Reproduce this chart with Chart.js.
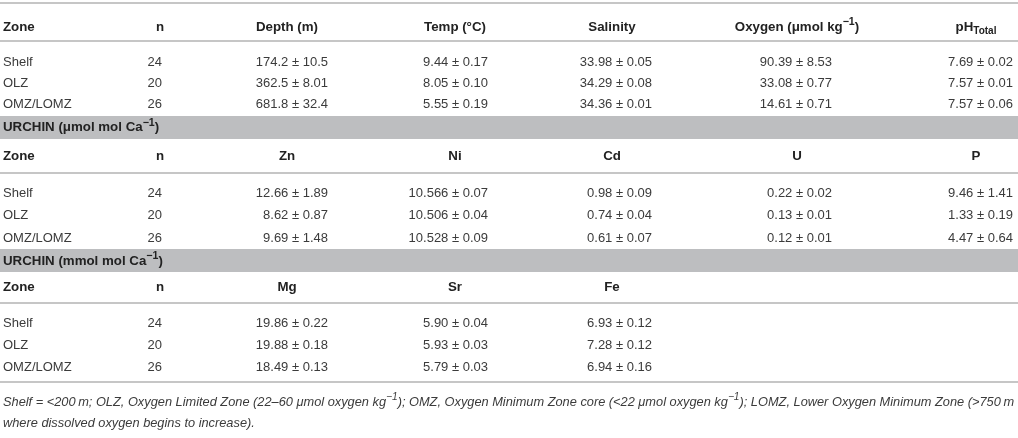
<!DOCTYPE html>
<html>
<head>
<meta charset="utf-8">
<script src="https://cdn.jsdelivr.net/npm/chart.js@4.4.1/dist/chart.umd.min.js"></script>
<style>
  html, body { margin: 0; padding: 0; background: #fff; }
  #wrap { width: 1018px; height: 438px; }
</style>
</head>
<body>
<div id="wrap"><canvas id="chart"></canvas></div>
<script>
// ---- data ----
const zones = ["Shelf", "OLZ", "OMZ/LOMZ"];
const nValues = [24, 20, 26];

const envHeaders = ["Zone", "n", "Depth (m)", "Temp (°C)", "Salinity", "Oxygen (μmol kg^{−1})", "pH_{Total}"];
const depthMean = ["174.2", "362.5", "681.8"];
const depthSd = ["10.5", "8.01", "32.4"];
const tempMean = ["9.44", "8.05", "5.55"];
const tempSd = ["0.17", "0.10", "0.19"];
const salinityMean = ["33.98", "34.29", "34.36"];
const salinitySd = ["0.05", "0.08", "0.01"];
const oxygenMean = ["90.39", "33.08", "14.61"];
const oxygenSd = ["8.53", "0.77", "0.71"];
const phMean = ["7.69", "7.57", "7.57"];
const phSd = ["0.02", "0.01", "0.06"];

const microTitle = "URCHIN (μmol mol Ca^{−1})";
const microHeaders = ["Zone", "n", "Zn", "Ni", "Cd", "U", "P"];
const znMean = ["12.66", "8.62", "9.69"];
const znSd = ["1.89", "0.87", "1.48"];
const niMean = ["10.566", "10.506", "10.528"];
const niSd = ["0.07", "0.04", "0.09"];
const cdMean = ["0.98", "0.74", "0.61"];
const cdSd = ["0.09", "0.04", "0.07"];
const uMean = ["0.22", "0.13", "0.12"];
const uSd = ["0.02", "0.01", "0.01"];
const pMean = ["9.46", "1.33", "4.47"];
const pSd = ["1.41", "0.19", "0.64"];

const milliTitle = "URCHIN (mmol mol Ca^{−1})";
const milliHeaders = ["Zone", "n", "Mg", "Sr", "Fe"];
const mgMean = ["19.86", "19.88", "18.49"];
const mgSd = ["0.22", "0.18", "0.13"];
const srMean = ["5.90", "5.93", "5.79"];
const srSd = ["0.04", "0.03", "0.03"];
const feMean = ["6.93", "7.28", "6.94"];
const feSd = ["0.12", "0.12", "0.16"];

const footnote = [
  "Shelf = <200\u2009m; OLZ, Oxygen Limited Zone (22–60 μmol oxygen kg^{−1}); OMZ, Oxygen Minimum Zone core (<22 μmol oxygen kg^{−1}); LOMZ, Lower Oxygen Minimum Zone (>750\u2009m",
  "where dissolved oxygen begins to increase)."
];

// ---- layout (table units) ----
const headerX = [3, 160, 287, 455, 612, 797, 976];   // header anchors
const cellX = [3, 162, 328, 488, 652, 832, 1013];    // value anchors (right edge)
const blocks = [
  { headerY: 27, rowY: [62, 83, 104] },
  { headerY: 156, rowY: [193, 215.5, 238] },
  { headerY: 287, rowY: [323, 345, 367] }
];
const bands = [{ top: 116, bottom: 139, textY: 127.5 }, { top: 249, bottom: 272, textY: 261 }];
const rules = [3, 41, 173, 303, 382];
const footY = [402, 423];

const FONT = '"Liberation Sans", Arial, Helvetica, sans-serif';
const TEXT = "#3b3b3b";
const BOLD = "#222";

const pm = (m, s) => m.map((v, i) => v + " ± " + s[i]);

function headerSet(labels, y) {
  return {
    data: labels.map((t, i) => ({ x: headerX[i], y: y, t: t, al: i === 0 ? "left" : "center" })),
    font: "bold 13.3px " + FONT, color: BOLD
  };
}
function colSet(texts, col, rowY, align) {
  return {
    data: texts.map((t, i) => ({ x: cellX[col], y: rowY[i], t: String(t), al: align })),
    font: "13px " + FONT, color: TEXT
  };
}

const datasets = [];
const valueBlocks = [
  [pm(depthMean, depthSd), pm(tempMean, tempSd), pm(salinityMean, salinitySd), pm(oxygenMean, oxygenSd), pm(phMean, phSd)],
  [pm(znMean, znSd), pm(niMean, niSd), pm(cdMean, cdSd), pm(uMean, uSd), pm(pMean, pSd)],
  [pm(mgMean, mgSd), pm(srMean, srSd), pm(feMean, feSd)]
];
[envHeaders, microHeaders, milliHeaders].forEach((h, b) => {
  const blk = blocks[b];
  datasets.push(headerSet(h, blk.headerY));
  datasets.push(colSet(zones, 0, blk.rowY, "left"));
  datasets.push(colSet(nValues, 1, blk.rowY, "right"));
  valueBlocks[b].forEach((vals, k) => datasets.push(colSet(vals, k + 2, blk.rowY, "right")));
});
[microTitle, milliTitle].forEach((t, i) => {
  datasets.push({ data: [{ x: 3, y: bands[i].textY, t: t, al: "left" }], font: "bold 13.3px " + FONT, color: BOLD });
});
datasets.push({
  data: footnote.map((t, i) => ({ x: 3, y: footY[i], t: t, al: "left" })),
  font: "italic 12.8px " + FONT, color: TEXT
});
datasets.forEach(d => { d.pointRadius = 0; d.pointHoverRadius = 0; });

// ---- rich text (^{sup}, _{sub}) ----
function parseRich(s) {
  const out = [];
  const re = /([\^_])\{([^}]*)\}/g;
  let last = 0, m;
  while ((m = re.exec(s))) {
    if (m.index > last) out.push({ t: s.slice(last, m.index), k: "" });
    out.push({ t: m[2], k: m[1] === "^" ? "sup" : "sub" });
    last = re.lastIndex;
  }
  if (last < s.length) out.push({ t: s.slice(last), k: "" });
  return out;
}
function drawRich(ctx, s, x, y, align, font, color) {
  const size = parseFloat(font.match(/([\d.]+)px/)[1]);
  const segs = parseRich(s).map(g => {
    const scale = g.k === "sup" ? 0.8 : 0.75;
    const f = g.k ? font.replace(/[\d.]+px/, (size * scale).toFixed(1) + "px") : font;
    ctx.font = f;
    return { t: g.t, k: g.k, f: f, w: ctx.measureText(g.t).width };
  });
  const total = segs.reduce((a, g) => a + g.w, 0);
  let cx = align === "left" ? x : align === "right" ? x - total : x - total / 2;
  ctx.fillStyle = color;
  ctx.textAlign = "left";
  ctx.textBaseline = "middle";
  segs.forEach(g => {
    ctx.font = g.f;
    const dy = g.k === "sup" ? -size * 0.36 : g.k === "sub" ? size * 0.3 : 0;
    ctx.fillText(g.t, cx, y + dy);
    cx += g.w;
  });
}

const tablePlugin = {
  id: "table",
  beforeDatasetsDraw(chart) {
    const { ctx, scales: { x, y } } = chart;
    const x0 = x.getPixelForValue(0), x1 = x.getPixelForValue(1018);
    ctx.save();
    ctx.fillStyle = "#bdbec0";
    bands.forEach(b => {
      const t = y.getPixelForValue(b.top), bt = y.getPixelForValue(b.bottom);
      ctx.fillRect(x0, t, x1 - x0, bt - t);
    });
    ctx.strokeStyle = "#c6c6c6";
    ctx.lineWidth = 2;
    rules.forEach(r => {
      const py = y.getPixelForValue(r);
      ctx.beginPath(); ctx.moveTo(x0, py); ctx.lineTo(x1, py); ctx.stroke();
    });
    ctx.restore();
  },
  afterDatasetsDraw(chart) {
    const ctx = chart.ctx;
    ctx.save();
    chart.data.datasets.forEach((ds, i) => {
      chart.getDatasetMeta(i).data.forEach((pt, j) => {
        const d = ds.data[j];
        drawRich(ctx, d.t, pt.x, pt.y, d.al, ds.font, ds.color);
      });
    });
    ctx.restore();
  }
};

new Chart(document.getElementById("chart"), {
  type: "scatter",
  data: { datasets: datasets },
  options: {
    responsive: true,
    maintainAspectRatio: false,
    animation: false,
    layout: { padding: 0 },
    plugins: { legend: { display: false }, tooltip: { enabled: false } },
    scales: {
      x: { type: "linear", min: 0, max: 1018, display: false },
      y: { type: "linear", min: 0, max: 438, reverse: true, display: false }
    },
    clip: false
  },
  plugins: [tablePlugin]
});
</script>
</body>
</html>
